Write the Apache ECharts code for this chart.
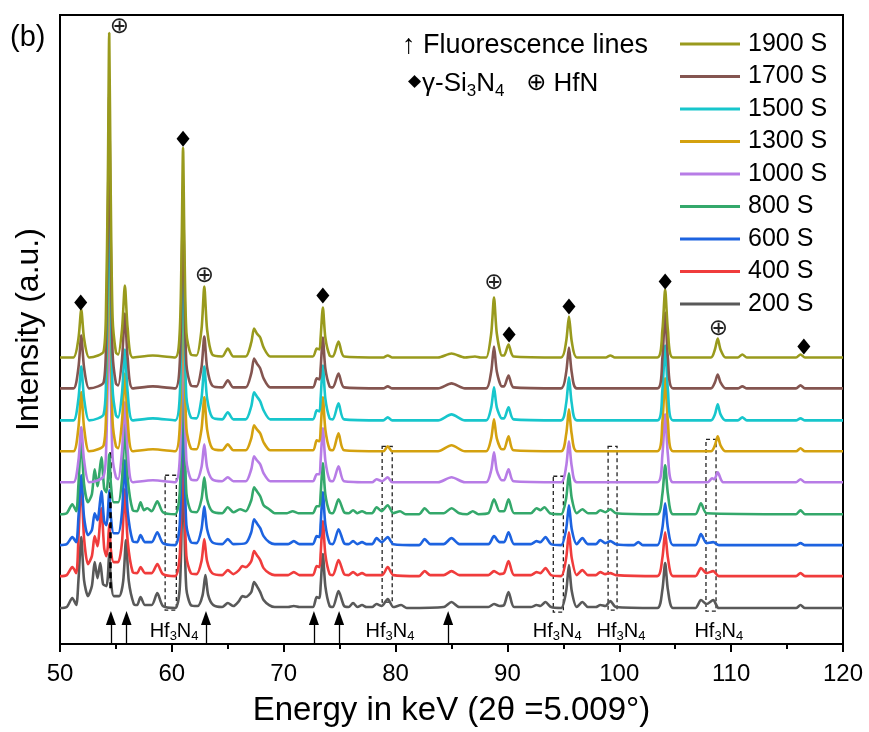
<!DOCTYPE html>
<html>
<head>
<meta charset="utf-8">
<script src="https://cdn.jsdelivr.net/npm/echarts@6/dist/echarts.min.js"></script>
<style>
  html, body { margin: 0; padding: 0; background: #fff; }
  #chart { width: 869px; height: 732px; }
</style>
</head>
<body>
<div id="chart"></div>
<script>
// Sample annealing times (bottom trace first) and their vertical stacking offsets (a.u.)
const sampleNames = ['200 S', '400 S', '600 S', '800 S', '1000 S', '1300 S', '1500 S', '1700 S', '1900 S'];
const stackOffsets = [36, 68, 99, 130, 162, 193, 224, 256, 287];

// Diffraction traces: [energy keV, intensity above own baseline, a.u.]
const spectrum200S = [[50,0],[50.6,1],[51.1,10],[51.45,3],[51.65,28],[51.9,71],[52.15,28],[52.5,12],[52.85,22],[53.1,46],[53.35,30],[53.6,45],[53.85,24],[54.15,22],[54.28,32],[54.4,55],[54.55,28],[54.8,12],[55.3,12],[55.65,27],[55.9,68],[56.15,27],[56.6,4],[56.9,3],[57.2,11],[57.6,3],[58.2,3],[58.7,15],[59.2,2],[60.3,0],[60.7,19],[60.88,85],[61.0,155],[61.12,85],[61.3,19],[61.7,3],[62.3,2],[62.75,13],[63.0,33],[63.25,13],[63.7,3],[64.5,1],[65.0,5],[65.5,2],[66.0,7],[66.3,12],[66.6,11],[67.1,16],[67.35,26],[67.6,22],[67.9,16],[68.2,8],[68.7,3],[69.2,1],[70.4,1],[70.9,2],[71.4,1],[72.6,1],[72.95,11],[73.2,10],[73.3,22],[73.5,54],[73.72,22],[74.1,2],[74.4,1],[74.9,17],[75.4,2],[75.8,1],[76.2,5],[76.6,1],[77.0,3],[77.4,1],[77.9,1],[78.3,4],[78.75,2],[79.3,9],[79.8,1],[80.5,3],[81.0,0],[84.3,1],[85,6],[85.7,1],[88.3,1],[88.8,4],[89.3,2],[89.7,3],[90.1,16],[90.6,1],[92.1,1],[92.6,3],[92.95,2],[93.4,6],[93.9,1],[94.8,0],[95.25,17],[95.5,43],[95.75,17],[96.2,1],[96.7,6],[97.2,1],[97.9,1],[98.3,3],[98.75,2],[99.2,7],[99.7,1],[103.4,0],[103.85,18],[104.1,45],[104.35,18],[104.8,0],[106.8,0],[107.3,8],[107.8,4],[108.4,8],[108.9,0],[115.8,0],[116.2,3],[116.6,0],[120,0]];
const spectrum400S = [[50,0],[50.6,1],[51.1,9],[51.45,3],[51.65,38],[51.9,95],[52.15,38],[52.5,12],[52.85,20],[53.1,40],[53.35,30],[53.7,68],[53.95,28],[54.15,20],[54.28,30],[54.4,52],[54.55,26],[54.8,14],[55.2,14],[55.55,35],[55.8,87],[56.05,35],[56.5,4],[56.9,3],[57.2,9],[57.6,3],[58.2,3],[58.7,12],[59.2,2],[60.3,0],[60.7,20],[60.88,91],[61.0,165],[61.12,91],[61.3,20],[61.7,3],[62.2,2],[62.65,15],[62.9,37],[63.15,15],[63.6,3],[64.5,1],[65.0,6],[65.5,2],[66.0,6],[66.3,10],[66.6,9],[67.1,15],[67.35,25],[67.6,21],[67.9,16],[68.2,8],[68.7,3],[69.2,1],[70.4,1],[70.9,4],[71.4,1],[72.6,1],[72.95,10],[73.2,9],[73.3,22],[73.5,55],[73.72,22],[74.1,2],[74.4,1],[74.9,16],[75.4,2],[75.8,1],[76.2,4],[76.6,1],[77.0,3],[77.4,1],[78.8,1],[79.3,9],[79.8,1],[82.1,0],[82.6,5],[83.1,1],[84.3,1],[85,5],[85.7,1],[88.3,1],[88.8,5],[89.3,2],[89.7,3],[90.1,15],[90.6,1],[92.1,1],[92.6,4],[92.95,3],[93.4,8],[93.9,1],[94.8,0],[95.25,18],[95.5,44],[95.75,18],[96.2,1],[96.7,6],[97.2,1],[97.9,1],[98.3,4],[98.75,2],[99.2,3],[99.7,1],[103.4,0],[103.85,18],[104.1,44],[104.35,18],[104.8,0],[106.8,0],[107.3,8],[107.8,3],[108.4,5],[108.9,0],[115.8,0],[116.2,3],[116.6,0],[120,0]];
const spectrum600S = [[50,0],[50.6,1],[51.1,8],[51.45,3],[51.65,28],[51.9,70],[52.15,28],[52.5,10],[52.85,15],[53.1,32],[53.35,25],[53.7,54],[53.95,24],[54.15,20],[54.28,32],[54.4,55],[54.55,28],[54.8,12],[55.2,12],[55.55,34],[55.8,85],[56.05,34],[56.5,4],[56.9,3],[57.2,10],[57.6,3],[58.2,3],[58.7,13],[59.2,2],[60.3,0],[60.7,20],[60.88,94],[61.0,170],[61.12,94],[61.3,20],[61.7,3],[62.2,2],[62.65,16],[62.9,39],[63.15,16],[63.6,3],[64.5,1],[65.0,6],[65.5,1],[66.6,2],[67.1,13],[67.35,26],[67.6,22],[67.9,17],[68.2,9],[68.7,3],[69.2,1],[70.4,1],[70.9,4],[71.4,1],[72.6,1],[72.95,9],[73.2,8],[73.3,21],[73.5,53],[73.72,21],[74.1,2],[74.4,1],[74.9,16],[75.4,2],[75.8,1],[76.2,4],[76.6,1],[77.0,3],[77.4,1],[77.9,1],[78.3,7],[78.75,3],[79.3,8],[79.8,1],[82.1,0],[82.6,6],[83.1,1],[84.3,1],[85,7],[85.7,1],[88.3,1],[88.8,9],[89.3,3],[89.7,3],[90.1,13],[90.6,1],[92.1,1],[92.6,4],[92.95,3],[93.4,8],[93.9,1],[94.8,0],[95.25,16],[95.5,40],[95.75,16],[96.2,1],[96.7,7],[97.2,1],[97.9,1],[98.3,5],[98.75,2],[99.2,4],[99.7,1],[101.3,0],[101.7,3],[102.1,0],[103.4,0],[103.85,17],[104.1,42],[104.35,17],[104.8,0],[106.8,0],[107.3,11],[107.8,2],[108.4,3],[108.9,0],[115.8,0],[116.2,2],[116.6,0],[120,0]];
const spectrum800S = [[50,0],[50.6,1],[51.1,10],[51.45,3],[51.65,30],[51.9,75],[52.15,30],[52.5,12],[52.85,20],[53.1,45],[53.35,28],[53.7,57],[53.95,26],[54.15,22],[54.28,35],[54.4,60],[54.55,30],[54.8,12],[55.2,12],[55.55,36],[55.8,90],[56.05,36],[56.5,4],[56.9,3],[57.2,12],[57.5,4],[57.8,6],[58.2,3],[58.7,13],[59.2,2],[60.3,0],[60.7,21],[60.88,96],[61.0,175],[61.12,96],[61.3,21],[61.7,3],[62.2,2],[62.65,15],[62.9,37],[63.15,15],[63.6,3],[64.5,1],[65.0,7],[65.5,2],[66.1,5],[66.6,3],[67.1,14],[67.35,27],[67.6,23],[67.9,18],[68.2,9],[68.7,5],[69.2,1],[70.3,1],[70.8,3],[71.3,1],[72.6,1],[72.95,8],[73.2,8],[73.3,20],[73.5,51],[73.72,20],[74.1,2],[74.4,1],[74.9,15],[75.4,2],[75.8,1],[76.2,4],[76.6,1],[77.0,3],[77.4,1],[77.9,1],[78.3,7],[78.75,3],[79.3,9],[79.8,1],[80.4,3],[80.9,0],[82.1,0],[82.6,6],[83.1,1],[84.3,1],[85,6],[85.7,1],[86.4,0],[86.9,3],[87.4,0],[88.3,1],[88.8,15],[89.3,3],[89.7,3],[90.1,15],[90.6,1],[92.1,1],[92.6,6],[92.95,4],[93.3,7],[93.8,1],[94.8,0],[95.25,16],[95.5,41],[95.75,16],[96.2,1],[96.7,5],[97.2,1],[97.9,1],[98.3,4],[98.75,2],[99.2,5],[99.7,1],[103.4,0],[103.85,20],[104.1,49],[104.35,20],[104.8,0],[106.8,0],[107.3,11],[107.8,1],[115.8,0],[116.2,4],[116.6,0],[120,0]];
const spectrum1000S = [[50,0],[51.2,0],[51.65,22],[51.9,55],[52.15,22],[52.6,0],[53.4,2],[53.9,6],[54.1,25],[54.28,110],[54.4,200],[54.52,110],[54.7,25],[55.0,5],[55.2,3],[55.55,32],[55.8,80],[56.05,32],[56.5,0],[58.3,2],[60.3,0],[60.7,22],[60.88,100],[61.0,185],[61.12,100],[61.3,22],[61.7,3],[62.2,2],[62.65,15],[62.9,38],[63.15,15],[63.6,3],[64.5,1],[65.0,5],[65.5,1],[66.6,1],[67.1,13],[67.35,26],[67.6,22],[67.9,18],[68.2,9],[68.8,1],[72.6,1],[72.95,8],[73.2,8],[73.3,22],[73.5,54],[73.72,22],[74.1,2],[74.4,1],[74.9,16],[75.4,1],[77.9,0],[78.3,3],[78.8,1],[79.3,5],[79.7,0],[83.8,0],[85,5],[86.2,0],[88.1,0],[88.55,12],[88.8,30],[89.05,12],[89.5,2],[89.7,2],[90.1,13],[90.55,1],[94.8,0],[95.25,16],[95.5,41],[95.75,16],[96.2,0],[103.4,0],[103.85,27],[104.1,68],[104.35,27],[104.8,0],[107.9,0],[108.3,4],[108.5,3],[108.8,10],[109.3,0],[115.8,0],[116.2,3],[116.6,0],[120,0]];
const spectrum1300S = [[50,0],[51.2,0],[51.65,24],[51.9,59],[52.15,24],[52.6,0],[53.4,2],[53.9,6],[54.1,30],[54.28,135],[54.4,245],[54.52,135],[54.7,30],[55.0,5],[55.2,3],[55.55,31],[55.8,78],[56.05,31],[56.5,0],[58.3,2],[60.3,0],[60.7,23],[60.88,105],[61.0,190],[61.12,105],[61.3,23],[61.7,3],[62.2,2],[62.65,22],[62.9,54],[63.15,22],[63.6,3],[64.5,1],[65.0,7],[65.5,1],[66.6,1],[67.1,13],[67.35,26],[67.6,22],[67.9,18],[68.2,9],[68.8,1],[72.6,1],[72.95,11],[73.2,10],[73.3,22],[73.5,54],[73.72,22],[74.1,2],[74.4,1],[74.9,18],[75.4,1],[78.9,0],[79.3,5],[79.7,0],[83.8,0],[85,6],[86.2,0],[88.1,0],[88.55,13],[88.8,32],[89.05,13],[89.5,2],[89.7,2],[90.1,15],[90.55,1],[94.8,0],[95.25,17],[95.5,42],[95.75,17],[96.2,0],[103.4,0],[103.85,29],[104.1,73],[104.35,29],[104.8,0],[108.2,0],[108.55,6],[108.8,15],[109.05,6],[109.5,0],[115.8,0],[116.2,3],[116.6,0],[120,0]];
const spectrum1500S = [[50,0],[51.2,0],[51.65,22],[51.9,54],[52.15,22],[52.6,0],[53.4,2],[53.9,6],[54.1,32],[54.28,150],[54.4,270],[54.52,150],[54.7,32],[55.0,5],[55.2,3],[55.55,28],[55.8,71],[56.05,28],[56.5,0],[58.3,2],[60.3,0],[60.7,23],[60.88,107],[61.0,195],[61.12,107],[61.3,23],[61.7,3],[62.2,2],[62.65,22],[62.9,54],[63.15,22],[63.6,3],[64.5,1],[65.0,8],[65.5,1],[66.6,1],[67.1,14],[67.35,28],[67.6,24],[67.9,19],[68.2,10],[68.8,1],[72.6,1],[72.95,10],[73.2,9],[73.3,22],[73.5,55],[73.72,22],[74.1,2],[74.4,1],[74.9,17],[75.4,1],[78.9,0],[79.3,3],[79.7,0],[83.8,0],[85,6],[86.2,0],[88.1,0],[88.55,13],[88.8,33],[89.05,13],[89.5,2],[89.7,2],[90.1,13],[90.55,1],[94.8,0],[95.25,17],[95.5,43],[95.75,17],[96.2,0],[103.4,0],[103.85,30],[104.1,75],[104.35,30],[104.8,0],[108.2,0],[108.55,6],[108.8,16],[109.05,6],[109.5,0],[110.6,0],[111,3],[111.4,0],[115.8,0],[116.2,2],[116.6,0],[120,0]];
const spectrum1700S = [[50,0],[51.2,0],[51.65,21],[51.9,53],[52.15,21],[52.6,0],[53.4,2],[53.9,6],[54.1,36],[54.28,165],[54.4,295],[54.52,165],[54.7,36],[55.0,5],[55.2,3],[55.55,30],[55.8,75],[56.05,30],[56.5,0],[58.3,2],[60.3,0],[60.7,24],[60.88,110],[61.0,200],[61.12,110],[61.3,24],[61.7,3],[62.2,2],[62.65,21],[62.9,52],[63.15,21],[63.6,3],[64.5,1],[65.0,8],[65.5,1],[66.6,1],[67.1,15],[67.35,30],[67.6,25],[67.9,20],[68.2,10],[68.8,1],[72.6,1],[72.95,10],[73.2,9],[73.3,20],[73.5,51],[73.72,20],[74.1,2],[74.4,1],[74.9,15],[75.4,1],[78.9,0],[79.3,2],[79.7,0],[83.8,0],[85,5],[86.2,0],[88.1,0],[88.55,17],[88.8,42],[89.05,17],[89.5,2],[89.7,2],[90.1,13],[90.55,1],[94.8,0],[95.25,16],[95.5,41],[95.75,16],[96.2,0],[103.4,0],[103.85,30],[104.1,76],[104.35,30],[104.8,0],[108.2,0],[108.55,6],[108.8,14],[109.05,6],[109.5,0],[110.6,0],[111,2],[111.4,0],[115.8,0],[116.2,3],[116.6,0],[120,0]];
const spectrum1900S = [[50,0],[51.2,0],[51.65,19],[51.9,48],[52.15,19],[52.6,0],[53.4,2],[53.9,6],[54.1,40],[54.28,180],[54.4,325],[54.52,180],[54.7,40],[55.0,5],[55.2,3],[55.55,29],[55.8,72],[56.05,29],[56.5,0],[58.3,2],[60.3,0],[60.7,25],[60.88,115],[61.0,210],[61.12,115],[61.3,25],[61.7,3],[62.2,2],[62.65,28],[62.9,71],[63.15,28],[63.6,3],[64.5,1],[65.0,9],[65.5,1],[66.6,1],[67.1,15],[67.35,29],[67.6,24],[67.9,20],[68.2,10],[68.8,1],[72.6,1],[72.95,9],[73.2,8],[73.3,20],[73.5,50],[73.72,20],[74.1,2],[74.4,1],[74.9,16],[75.4,1],[78.9,0],[79.3,2],[79.7,0],[83.8,0],[85,4],[86.2,0],[87.1,1],[87.6,0],[88.1,0],[88.55,24],[88.8,60],[89.05,24],[89.5,2],[89.7,2],[90.1,13],[90.55,1],[94.8,0],[95.25,16],[95.5,41],[95.75,16],[96.2,0],[98.8,0],[99.2,2],[99.6,0],[103.4,0],[103.85,27],[104.1,68],[104.35,27],[104.8,0],[108.2,0],[108.55,8],[108.8,19],[109.05,8],[109.5,0],[110.6,0],[111,3],[111.4,0],[115.8,0],[116.2,3],[116.6,0],[120,0]];
const spectra = [spectrum200S, spectrum400S, spectrum600S, spectrum800S, spectrum1000S, spectrum1300S, spectrum1500S, spectrum1700S, spectrum1900S];

// Phase markers [energy keV, intensity a.u.]
const siliconNitrideMarks = [[51.85, 342], [61.0, 506], [73.5, 349], [90.15, 310], [95.5, 338], [104.1, 363], [116.5, 298]];
const hafniumNitrideMarks = [[55.3, 618], [62.9, 369], [88.8, 362], [108.85, 315]];
// Fluorescence line energies (keV)
const fluorescenceLines = [54.55, 55.95, 63.05, 72.7, 74.95, 84.7];
// Hf3N4 reflection windows [keV from, keV to, a.u. top, a.u. bottom] and label positions
const hf3n4Windows = [[59.4, 60.4, 169, 34], [78.8, 79.7, 198, 42], [94.1, 95.0, 168, 32], [99.0, 99.8, 198, 34], [107.75, 108.65, 205, 33]];
const hf3n4Labels = [[60.2, 13], [79.5, 13], [94.45, 13], [100.15, 13], [108.9, 13]];

const lineColors = ['#595959', '#f03c3c', '#1d63e0', '#34a86b', '#b77ce6', '#d4a10f', '#17c6cc', '#845550', '#999a1d'];
const FONT = 'Liberation Sans, Arial, sans-serif';

const chart = echarts.init(document.getElementById('chart'), null, { renderer: 'canvas' });

const traceSeries = sampleNames.map((name, i) => ({
  type: 'line',
  name: name,
  data: spectra[i].map(([e, v]) => [e, v + stackOffsets[i]]),
  symbol: 'none',
  showSymbol: false,
  smooth: 0.25,
  lineStyle: { color: lineColors[i], width: 2.6 },
  itemStyle: { color: lineColors[i] },
  z: 2 + i
}));

const annotationSeries = {
  type: 'line',
  name: 'annotations',
  data: [],
  silent: true,
  z: 20,
  markArea: {
    silent: true,
    itemStyle: { color: 'rgba(0,0,0,0)', borderColor: '#222', borderWidth: 1.3, borderType: [4, 3] },
    data: hf3n4Windows.map(w => [{ coord: [w[0], w[2]] }, { coord: [w[1], w[3]] }])
  },
  markLine: {
    silent: true,
    animation: false,
    label: { show: false },
    data: [
      [{ coord: [54.47, 192], symbol: 'none', lineStyle: { type: [6, 4], width: 2.5, color: '#000' } },
       { coord: [54.47, 52], symbol: 'none' }]
    ].concat(fluorescenceLines.map(e => [
      { coord: [e, 0], symbol: 'none', lineStyle: { type: 'solid', width: 1.3, color: '#000' } },
      { coord: [e, 26], symbol: 'triangle', symbolSize: [10, 14] }
    ])),
    lineStyle: { color: '#000' },
    itemStyle: { color: '#000' }
  }
};

const diamondSeries = {
  type: 'scatter',
  name: 'γ-Si3N4',
  data: siliconNitrideMarks,
  symbol: 'diamond',
  symbolSize: [13, 16],
  itemStyle: { color: '#000', opacity: 1 },
  z: 30
};

const hfnSeries = {
  type: 'scatter',
  name: 'HfN',
  data: hafniumNitrideMarks,
  symbolSize: 0,
  itemStyle: { opacity: 1 },
  z: 30,
  label: {
    show: true, position: 'inside', formatter: '⊕',
    fontFamily: 'DejaVu Sans', fontSize: 23, color: '#222'
  }
};

const labelSeries = {
  type: 'scatter',
  name: 'Hf3N4',
  data: hf3n4Labels,
  symbolSize: 0,
  itemStyle: { opacity: 1 },
  z: 30,
  label: {
    show: true, position: 'inside',
    formatter: 'Hf{s|3}N{s|4}',
    fontFamily: FONT, fontSize: 20, color: '#000',
    rich: { s: { fontFamily: FONT, fontSize: 13, color: '#000', verticalAlign: 'bottom', padding: [10, 0, 0, 0] } }
  }
};

chart.setOption({
  animation: false,
  backgroundColor: '#fff',
  grid: { left: 60, right: 26, top: 15, bottom: 87, show: true, borderColor: '#000', borderWidth: 2, backgroundColor: 'rgba(0,0,0,0)' },
  xAxis: {
    type: 'value', min: 50, max: 120, interval: 10,
    name: 'Energy in keV (2θ =5.009°)', nameLocation: 'middle', nameGap: 50,
    nameTextStyle: { fontFamily: FONT, fontSize: 33, color: '#000' },
    axisLine: { show: true, lineStyle: { color: '#000', width: 2 } },
    axisTick: { show: true, inside: false, length: 8, lineStyle: { color: '#000', width: 2 } },
    minorTick: { show: true, splitNumber: 2, length: 5, lineStyle: { color: '#000', width: 2 } },
    axisLabel: { fontFamily: FONT, fontSize: 24, color: '#000', margin: 18 },
    splitLine: { show: false }
  },
  yAxis: {
    type: 'value', min: 0, max: 630,
    name: 'Intensity (a.u.)', nameLocation: 'middle', nameGap: 15,
    nameTextStyle: { fontFamily: FONT, fontSize: 32, color: '#000' },
    axisLine: { show: true, lineStyle: { color: '#000', width: 2 } },
    axisTick: { show: false },
    axisLabel: { show: false },
    splitLine: { show: false }
  },
  legend: {
    data: sampleNames.slice().reverse(),
    orient: 'vertical', left: 680, top: 31, padding: 0,
    icon: 'rect',
    itemWidth: 60, itemHeight: 3, itemGap: 6.5,
    textStyle: { fontFamily: FONT, fontSize: 25, lineHeight: 26, color: '#000', padding: [0, 0, 0, 3] },
    selectedMode: false
  },
  graphic: [
    { type: 'text', left: 10, top: 23, style: { text: '(b)', font: '29px ' + FONT, fill: '#000' } },
    { type: 'text', left: 402, top: 32, style: { text: '↑ Fluorescence lines', font: '27px ' + FONT, fill: '#000' } },
    {
      type: 'text', left: 408, top: 71,
      style: {
        text: '{d|◆}γ-Si{s|3}N{s|4}   {o|⊕} HfN',
        font: '26px ' + FONT, fill: '#000',
        rich: {
          d: { font: '17px DejaVu Sans', fill: '#000', padding: [0, 1, 4, 0] },
          s: { font: '17px ' + FONT, fill: '#000', padding: [14, 0, 0, 0] },
          o: { font: '24px DejaVu Sans', fill: '#000' }
        }
      }
    }
  ],
  series: traceSeries.concat([annotationSeries, diamondSeries, hfnSeries, labelSeries])
});
</script>
</body>
</html>
